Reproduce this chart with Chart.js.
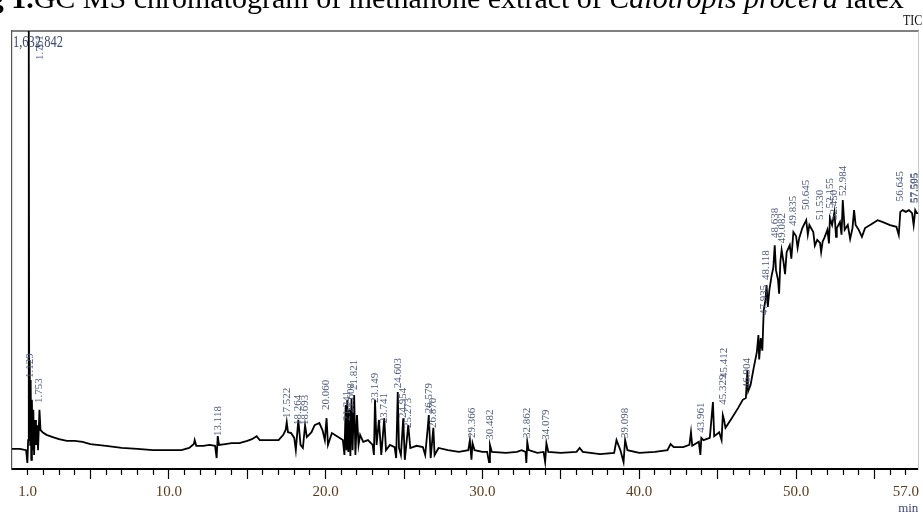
<!DOCTYPE html>
<html>
<head>
<meta charset="utf-8">
<script src="https://cdn.jsdelivr.net/npm/chart.js@4.4.1/dist/chart.umd.min.js"></script>
<style>
  html, body { margin: 0; padding: 0; background: #fff; overflow: hidden; }
  #marco { position: relative; width: 923px; height: 515px; overflow: hidden; }
  #grafico { position: absolute; left: 0; top: 0; }
  #titulo { position: absolute; left: -38px; top: -17px; white-space: nowrap; font-family: "Liberation Serif", "Times New Roman", serif; font-size: 30px; line-height: 30px; color: #000; }
  #tic { position: absolute; left: 903px; top: 12px; font: 15px "Liberation Serif", serif; color: #111; transform: scaleX(0.8); transform-origin: left top; }
  #maximo { position: absolute; left: 13px; top: 33px; font: 16px "Liberation Serif", serif; color: #3c4a6e; transform: scaleX(0.78); transform-origin: left top; }
</style>
</head>
<body>
<div id="marco">
  <canvas id="grafico" width="923" height="515"></canvas>
  <div id="titulo"><b>Fig 1.</b>GC MS chromatogram of methanone extract of <i>Calotropis procera</i> latex</div>
  <div id="tic">TIC</div>
  <div id="maximo">1,632,842</div>
</div>
<script>
const retentionTimes = [
  0.0, 0.5, 0.9, 0.98, 1.03, 1.07, 1.10, 1.13, 1.16, 1.19, 1.23, 1.27, 1.31, 1.36, 1.41, 1.47, 1.53, 1.60, 1.66, 1.75,
  1.82, 1.95, 2.2, 2.6, 3.0, 3.5, 4.0, 4.5, 5.0, 6.0, 7.0, 8.0, 9.0, 10.0, 10.8, 11.3, 11.6, 11.65, 11.75, 12.2,
  12.6, 12.95, 13.05, 13.12, 13.2, 13.6, 14.0, 14.5, 15.0, 15.3, 15.6, 15.8, 16.5, 17.0, 17.3, 17.45, 17.52, 17.6, 17.8, 18.0,
  18.1, 18.26, 18.4, 18.55, 18.69, 18.8, 19.1, 19.3, 19.6, 19.8, 19.95, 20.06, 20.15, 20.4, 20.8, 21.1, 21.2, 21.28, 21.33, 21.38,
  21.45, 21.52, 21.58, 21.65, 21.72, 21.82, 21.9, 22.0, 22.1, 22.2, 22.4, 22.7, 23.0, 23.08, 23.15, 23.25, 23.4, 23.55, 23.74, 23.85,
  24.1, 24.4, 24.5, 24.6, 24.68, 24.8, 24.95, 25.05, 25.27, 25.4, 25.8, 26.2, 26.35, 26.5, 26.58, 26.7, 26.87, 26.95, 27.2, 27.8,
  28.5, 29.1, 29.2, 29.3, 29.37, 29.5, 30.0, 30.3, 30.42, 30.48, 30.6, 31.5, 32.2, 32.5, 32.75, 32.8, 32.86, 32.95, 33.5, 33.9,
  34.0, 34.08, 34.2, 35.0, 36.0, 36.2, 36.4, 37.5, 38.4, 38.55, 38.8, 39.0, 39.1, 39.25, 40.0, 41.0, 41.8, 42.0, 42.2, 42.8,
  43.2, 43.3, 43.38, 43.8, 43.9, 43.96, 44.1, 44.5, 44.7, 44.78, 45.1, 45.25, 45.33, 45.41, 45.5, 45.9, 46.3, 46.6, 46.8, 46.9,
  46.95, 47.1, 47.3, 47.5, 47.6, 47.65, 47.75, 47.85, 47.94, 48.05, 48.12, 48.2, 48.3, 48.45, 48.55, 48.64, 48.72, 48.85, 48.92, 49.0,
  49.08, 49.2, 49.3, 49.4, 49.6, 49.7, 49.83, 50.0, 50.1, 50.2, 50.4, 50.65, 50.75, 50.85, 51.1, 51.2, 51.35, 51.53, 51.6, 51.7,
  51.8, 52.0, 52.1, 52.16, 52.3, 52.45, 52.55, 52.6, 52.8, 52.9, 52.98, 53.1, 53.3, 53.45, 53.6, 53.7, 53.8, 54.0, 54.2, 54.4,
  54.8, 55.2, 55.5, 56.0, 56.4, 56.55, 56.65, 56.8, 57.0, 57.2, 57.4, 57.5, 57.6, 57.7, 57.8
];
const relIntensity = [
  4.6, 4.6, 4.3, 1.4, 6.6, 100, 8.9, 24.9, 5.5, 20.3, 2.1, 15.8, 4.3, 13.5, 3.2, 11.2, 5.5, 10.0, 4.3, 13.5,
  8.9, 8.4, 7.8, 7.3, 6.8, 6.4, 6.4, 6.2, 5.7, 5.3, 4.8, 4.6, 4.3, 4.3, 4.3, 4.8, 5.7, 6.6, 5.3, 5.3,
  5.5, 5.3, 2.5, 7.5, 5.5, 5.7, 5.9, 5.9, 6.4, 6.8, 7.5, 6.6, 6.6, 6.6, 7.8, 8.9, 10.7, 8.4, 8.2, 7.1,
  4.3, 11.2, 5.5, 4.8, 10.0, 7.3, 8.4, 10.0, 10.5, 8.9, 6.6, 11.6, 5.5, 8.2, 7.3, 6.6, 3.2, 14.6, 4.3, 15.8,
  3.9, 13.5, 3.0, 16.2, 4.3, 16.9, 3.2, 12.3, 5.5, 7.8, 6.2, 6.6, 5.5, 3.2, 15.8, 5.5, 11.2, 3.2, 11.6, 4.3,
  5.5, 5.0, 2.5, 17.6, 4.8, 3.2, 11.6, 2.1, 10.0, 4.8, 5.3, 5.0, 3.2, 8.9, 12.3, 2.5, 9.4, 3.2, 4.8, 4.3,
  3.9, 4.3, 6.6, 2.1, 5.9, 4.3, 3.9, 3.9, 1.6, 5.5, 3.9, 3.7, 3.9, 4.3, 3.9, 1.4, 6.2, 4.3, 3.7, 3.9,
  1.6, 5.9, 3.9, 3.7, 3.9, 4.8, 3.9, 3.4, 3.7, 6.6, 4.3, 1.6, 6.6, 4.3, 3.7, 3.9, 4.3, 5.7, 5.0, 5.0,
  5.5, 8.4, 5.3, 6.2, 3.2, 7.1, 6.6, 7.1, 15.3, 7.5, 8.4, 6.6, 12.3, 11.2, 9.4, 11.6, 13.9, 15.8, 16.2, 22.6,
  17.8, 19.2, 23.1, 26.7, 30.6, 25.0, 29.9, 27.0, 36.3, 38.6, 42.0, 37.0, 40.9, 44.3, 45.9, 51.1, 45.4, 43.2, 40.0, 47.3,
  50.0, 47.3, 44.5, 49.5, 51.1, 48.0, 54.1, 53.2, 50.5, 52.7, 55.0, 56.8, 53.5, 55.7, 54.1, 51.0, 52.3, 51.6, 49.5, 52.0,
  52.7, 54.6, 51.5, 57.3, 55.7, 58.7, 53.0, 55.0, 56.4, 53.5, 61.4, 54.6, 55.7, 52.5, 55.0, 59.1, 55.7, 54.6, 53.0, 55.0,
  55.9, 56.8, 56.4, 55.7, 55.3, 53.4, 58.7, 59.1, 58.7, 59.1, 58.4, 55.7, 59.1, 58.4, 58.4
];

// Etiquetas de picos (tiempo de retención) y nivel (%) donde empieza cada texto
const peakLabels = [
  '1.761', '1.129', '1.753', '13.118', '17.522', '18.264', '18.693', '20.060', '21.341', '21.608',
  '21.821', '23.149', '23.741', '24.603', '24.954', '25.273', '26.579', '26.870', '29.366', '30.482',
  '32.862', '34.079', '39.098', '43.961', '45.329', '45.412', '46.904', '47.935', '48.118', '48.638',
  '49.082', '49.835', '50.645', '51.530', '52.155', '52.450', '52.984', '56.645', '57.505', '57.595'
];
const peakLabelLevels = [
  92.9, 20.3, 14.6, 7.1, 11.2, 9.6, 9.6, 13.0, 10.5, 12.3,
  17.6, 14.6, 10.0, 18.0, 11.2, 8.9, 12.3, 8.9, 6.6, 6.2,
  6.6, 6.2, 6.6, 7.8, 14.2, 20.3, 18.0, 34.7, 42.7, 52.3,
  51.1, 55.0, 58.7, 56.4, 59.1, 56.4, 61.9, 60.7, 60.3, 60.3
];

// Marcas del eje x (cada minuto) y las que llevan texto
const xTickValues = Array.from({ length: 57 }, (_, i) => i + 1);
const xLabelValues = [1, 10, 20, 30, 40, 50, 57];

// Dibuja los tiempos de retención girados sobre cada pico
const etiquetasPicos = {
  id: 'etiquetasPicos',
  afterDatasetsDraw(chart) {
    const { ctx, scales: { x, y } } = chart;
    ctx.save();
    ctx.fillStyle = '#4b587a';
    ctx.font = '11px "Liberation Serif"';
    ctx.textAlign = 'left';
    ctx.textBaseline = 'middle';
    peakLabels.forEach((txt, i) => {
      const px = x.getPixelForValue(parseFloat(txt));
      const py = y.getPixelForValue(peakLabelLevels[i]) - 2;
      ctx.save();
      ctx.translate(px, py);
      ctx.rotate(-Math.PI / 2);
      ctx.fillText(txt, 0, 0);
      ctx.restore();
    });
    ctx.restore();
  }
};

const ctx = document.getElementById('grafico').getContext('2d');
new Chart(ctx, {
  type: 'line',
  data: {
    datasets: [{
      data: retentionTimes.map((t, i) => ({ x: t, y: relIntensity[i] })),
      borderColor: '#000',
      borderWidth: 1.8,
      pointRadius: 0,
      tension: 0,
      fill: false,
    }],
  },
  options: {
    responsive: false,
    animation: false,
    events: [],
    layout: { padding: 0 },
    plugins: { legend: { display: false }, tooltip: { enabled: false } },
    scales: {
      x: {
        type: 'linear', position: 'bottom', min: 0, max: 57.8,
        afterBuildTicks: s => { s.ticks = xTickValues.map(v => ({ value: v })); },
        afterFit: s => { s.height = 46; },
        ticks: {
          autoSkip: false, maxRotation: 0, padding: 4, color: '#5a3b1c',
          font: { family: 'Liberation Serif', size: 15 },
          callback: v => xLabelValues.includes(v) ? v.toFixed(1) : '',
        },
        grid: {
          drawOnChartArea: false, tickLength: 10, tickColor: '#000', tickWidth: 1.2,
          tickBorderDash: c => (c.tick && c.tick.value % 5 === 0) ? [] : [5, 20],
        },
        border: { color: '#000', width: 2 },
        title: {
          display: true, text: 'min', align: 'end', color: '#3c4a6e',
          font: { family: 'Liberation Serif', size: 13, lineHeight: 1 }, padding: { top: 0, bottom: 0 },
        },
      },
      xTop: {
        type: 'linear', position: 'top', min: 0, max: 57.8,
        afterFit: s => { s.height = 31; },
        ticks: { display: false },
        grid: { display: false, drawTicks: false },
        border: { color: '#808080', width: 2 },
      },
      y: {
        min: 0, max: 100,
        afterFit: s => { s.width = 12; },
        ticks: { display: false },
        grid: { display: false, drawTicks: false },
        border: { color: '#555', width: 1.2 },
      },
      yRight: {
        position: 'right', min: 0, max: 100,
        afterFit: s => { s.width = 2; },
        ticks: { display: false },
        grid: { display: false, drawTicks: false },
        border: { color: '#c8c8c8', width: 1 },
      },
    },
  },
  plugins: [etiquetasPicos],
});
</script>
</body>
</html>
